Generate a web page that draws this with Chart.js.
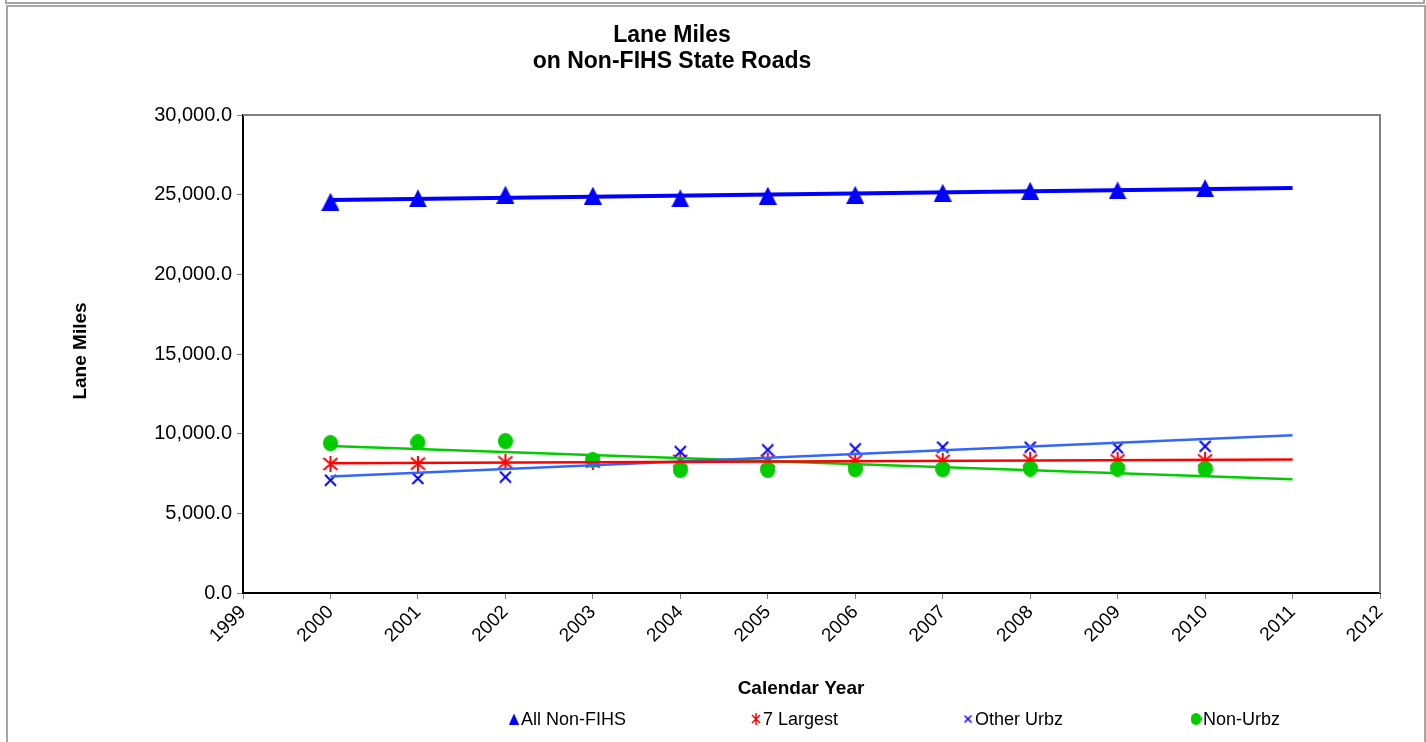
<!DOCTYPE html>
<html>
<head>
<meta charset="utf-8">
<script src="https://cdn.jsdelivr.net/npm/chart.js@4.4.1/dist/chart.umd.min.js"></script>
<style>
  html, body { margin: 0; padding: 0; background: #fff; }
  #wrap { position: relative; width: 1426px; height: 742px; overflow: hidden; }
  #topbox { position: absolute; left: 5px; top: -10px; width: 1416px; height: 10px; border: 2px solid #a6a6a6; }
  #frame { position: absolute; left: 6px; top: 5px; width: 1416px; height: 760px; border: 2px solid #a6a6a6; }
  #chart { position: absolute; left: 0; top: 0; }
</style>
</head>
<body>
<div id="wrap">
  <div id="topbox"></div>
  <div id="frame"></div>
  <canvas id="chart" width="1426" height="742"></canvas>
</div>
<script>
// data
const years = [2000, 2001, 2002, 2003, 2004, 2005, 2006, 2007, 2008, 2009, 2010];
const allNonFIHS = [24560, 24770, 25000, 24940, 24770, 24940, 24990, 25120, 25240, 25265, 25410];
const largest7 = [8100, 8120, 8200, 8250, 8300, 8280, 8300, 8300, 8320, 8320, 8320];
const otherUrbz = [7080, 7190, 7280, 8280, 8870, 8980, 9040, 9150, 9150, 9110, 9210];
const nonUrbz = [9400, 9450, 9530, 8340, 7720, 7720, 7770, 7770, 7810, 7810, 7770];
const seriesNames = ['All Non-FIHS', '7 Largest', 'Other Urbz', 'Non-Urbz'];
const yTicks = [0, 5000, 10000, 15000, 20000, 25000, 30000];
const xMin = 1999, xMax = 2012, trendEnd = 2011;

const FONT = '"Liberation Sans", Arial, sans-serif';

// least squares trend line, carried forward to trendEnd
function trend(xs, ys) {
  const n = xs.length;
  const mx = xs.reduce((a, b) => a + b, 0) / n;
  const my = ys.reduce((a, b) => a + b, 0) / n;
  let sxy = 0, sxx = 0;
  for (let i = 0; i < n; i++) {
    sxy += (xs[i] - mx) * (ys[i] - my);
    sxx += (xs[i] - mx) * (xs[i] - mx);
  }
  const b = sxy / sxx;
  const a = my - b * mx;
  return [{ x: xs[0], y: a + b * xs[0] }, { x: trendEnd, y: a + b * trendEnd }];
}

function pts(ys) {
  return years.map((x, i) => ({ x: x, y: ys[i] }));
}

// marker images
function marker(kind, w, h, color, lw) {
  const c = document.createElement('canvas');
  c.width = w; c.height = h;
  const g = c.getContext('2d');
  g.fillStyle = color; g.strokeStyle = color;
  g.lineWidth = lw || 2;
  if (kind === 'tri') {
    g.beginPath();
    g.moveTo(w / 2, 0); g.lineTo(w, h); g.lineTo(0, h); g.closePath(); g.fill();
  } else if (kind === 'ast') {
    g.beginPath();
    g.moveTo(1, 2); g.lineTo(w - 1, h - 2);
    g.moveTo(w - 1, 2); g.lineTo(1, h - 2);
    g.moveTo(w / 2, 0); g.lineTo(w / 2, h);
    g.stroke();
  } else if (kind === 'x') {
    g.beginPath();
    g.moveTo(1, 1); g.lineTo(w - 1, h - 1);
    g.moveTo(w - 1, 1); g.lineTo(1, h - 1);
    g.stroke();
  } else {
    g.beginPath();
    g.ellipse(w / 2, h / 2, w / 2, h / 2, 0, 0, Math.PI * 2);
    g.fill();
  }
  return c;
}

const triBig = marker('tri', 18, 18, '#0000ff');
const astBig = marker('ast', 16, 16, '#ff0000');
const xBig = marker('x', 13, 13, '#0000ff');
const dotBig = marker('dot', 15, 16, '#00cc00');
const legendMarks = [
  marker('tri', 10, 11, '#0000ff'),
  marker('ast', 10, 12, '#ff0000', 1.5),
  marker('x', 9, 9, '#0000ff', 1.5),
  marker('dot', 11, 12, '#00cc00')
];

const framePlugin = {
  id: 'framePlugin',
  beforeDatasetsDraw(chart) {
    const { ctx, chartArea: a } = chart;
    ctx.save();
    ctx.strokeStyle = '#808080';
    ctx.lineWidth = 2;
    ctx.beginPath();
    ctx.moveTo(a.left, a.top); ctx.lineTo(a.right, a.top); ctx.lineTo(a.right, a.bottom);
    ctx.stroke();
    ctx.restore();
  },
  afterDraw(chart) {
    const ctx = chart.ctx;
    ctx.save();
    ctx.fillStyle = '#000';
    ctx.textAlign = 'center';
    ctx.textBaseline = 'middle';
    ctx.font = 'bold 23px ' + FONT;
    ctx.fillText('Lane Miles', 672, 36);
    ctx.fillText('on Non-FIHS State Roads', 672, 62);

    // axis titles
    ctx.font = 'bold 19px ' + FONT;
    ctx.fillText('Calendar Year', 801, 689);
    ctx.save();
    ctx.translate(81, 351);
    ctx.rotate(-Math.PI / 2);
    ctx.fillText('Lane Miles', 0, 0);
    ctx.restore();

    // legend
    const mx = [514, 756, 968, 1196];
    const ly = 719;
    ctx.font = '18px ' + FONT;
    ctx.textAlign = 'left';
    seriesNames.forEach((name, i) => {
      const m = legendMarks[i];
      ctx.drawImage(m, mx[i] - m.width / 2, ly - m.height / 2);
      ctx.fillText(name, mx[i] + 7, ly + 1);
    });
    ctx.restore();
  }
};

new Chart(document.getElementById('chart'), {
  type: 'scatter',
  data: {
    datasets: [
      { label: seriesNames[0] + ' trend', data: trend(years, allNonFIHS), showLine: true, pointRadius: 0,
        borderColor: '#0000ff', borderWidth: 4, order: 0 },
      { label: seriesNames[1] + ' trend', data: trend(years, largest7), showLine: true, pointRadius: 0,
        borderColor: '#ff0000', borderWidth: 2.5, order: 0 },
      { label: seriesNames[2] + ' trend', data: trend(years, otherUrbz), showLine: true, pointRadius: 0,
        borderColor: '#3366ff', borderWidth: 2.5, order: 0 },
      { label: seriesNames[3] + ' trend', data: trend(years, nonUrbz), showLine: true, pointRadius: 0,
        borderColor: '#00cc00', borderWidth: 2.5, order: 0 },
      { label: seriesNames[3], data: pts(nonUrbz), pointStyle: dotBig, pointRadius: 8, order: 1 },
      { label: seriesNames[2], data: pts(otherUrbz), pointStyle: xBig, pointRadius: 8, order: 2 },
      { label: seriesNames[1], data: pts(largest7), pointStyle: astBig, pointRadius: 8, order: 3 },
      { label: seriesNames[0], data: pts(allNonFIHS), pointStyle: triBig, pointRadius: 8, order: 4 }
    ]
  },
  options: {
    responsive: false,
    animation: false,
    layout: { padding: { top: 115, left: 66, right: 46, bottom: 38 } },
    plugins: {
      legend: { display: false },
      title: { display: false },
      tooltip: { enabled: false }
    },
    scales: {
      x: {
        type: 'linear',
        min: xMin, max: xMax,
        afterBuildTicks: s => { s.ticks = []; for (let v = xMin; v <= xMax; v++) s.ticks.push({ value: v }); },
        afterFit: s => { s.height = 111; },
        ticks: {
          color: '#000', font: { family: FONT, size: 19 },
          minRotation: 45, maxRotation: 45, padding: 2,
          callback: v => String(v)
        },
        grid: { drawOnChartArea: false, color: '#808080', tickLength: 6 },
        border: { color: '#000', width: 2 }
      },
      y: {
        min: 0, max: 30000,
        afterBuildTicks: s => { s.ticks = yTicks.map(v => ({ value: v })); },
        afterFit: s => { s.width = 177; },
        ticks: {
          color: '#000', font: { family: FONT, size: 20 }, padding: 5,
          callback: v => v.toLocaleString('en-US', { minimumFractionDigits: 1, maximumFractionDigits: 1 })
        },
        grid: { drawOnChartArea: false, color: '#808080', tickLength: 6 },
        border: { color: '#000', width: 2 }
      }
    }
  },
  plugins: [framePlugin]
});
</script>
</body>
</html>
